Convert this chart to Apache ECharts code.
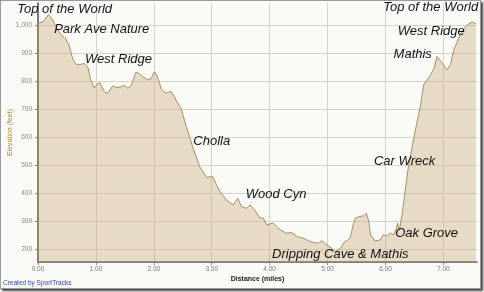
<!DOCTYPE html>
<html>
<head>
<meta charset="utf-8">
<script src="https://cdn.jsdelivr.net/npm/echarts@6/dist/echarts.min.js"></script>
<style>
  html, body { margin: 0; padding: 0; background: #ffffff; }
  #wrap { position: relative; width: 484px; height: 292px; overflow: hidden; }
  #chart { position: absolute; left: 0; top: 0; width: 484px; height: 292px; }
  #frame { position: absolute; left: 0; top: 0; width: 479px; height: 287px;
           border: 1px solid #9a9a9a; box-shadow: 2px 2px 2px rgba(0,0,0,0.75);
           pointer-events: none; }
</style>
</head>
<body>
<div id="wrap">
  <div id="chart"></div>
  <div id="frame"></div>
</div>
<script>
// Distance (miles)
const distance = [
  0.00, 0.08, 0.12, 0.18, 0.22, 0.28, 0.36, 0.42, 0.48, 0.54,
  0.60, 0.65, 0.72, 0.80, 0.86, 0.91, 0.97, 1.03, 1.07, 1.14,
  1.20, 1.29, 1.36, 1.42, 1.49, 1.55, 1.60, 1.69, 1.75, 1.81,
  1.89, 1.95, 2.01, 2.04, 2.08, 2.13, 2.21, 2.30, 2.35, 2.39,
  2.47, 2.56, 2.67, 2.79, 2.91, 2.98, 3.02, 3.08, 3.14, 3.25,
  3.31, 3.37, 3.45, 3.51, 3.60, 3.66, 3.74, 3.83, 3.89, 3.95,
  4.06, 4.12, 4.18, 4.29, 4.38, 4.47, 4.58, 4.64, 4.70, 4.78,
  4.84, 4.90, 4.99, 5.07, 5.13, 5.22, 5.30, 5.35, 5.39, 5.45,
  5.48, 5.56, 5.62, 5.67, 5.71, 5.74, 5.82, 5.91, 5.96, 6.02,
  6.08, 6.14, 6.18, 6.21, 6.24, 6.28, 6.33, 6.39, 6.46, 6.54,
  6.60, 6.66, 6.72, 6.78, 6.84, 6.89, 6.92, 6.98, 7.06, 7.12,
  7.18, 7.24, 7.30, 7.38, 7.46, 7.50, 7.56
];
// Elevation (feet)
const elevation = [
  1006, 1010, 1020, 1036, 1028, 1006, 976, 960, 950, 925,
  878, 860, 858, 862, 850, 804, 774, 790, 794, 762,
  755, 782, 776, 778, 784, 774, 780, 830, 826, 815,
  804, 806, 833, 825, 804, 770, 756, 762, 745, 728,
  702, 637, 565, 494, 455, 458, 457, 430, 405, 375,
  366, 357, 381, 351, 345, 357, 339, 310, 310, 286,
  292, 280, 268, 256, 258, 244, 238, 232, 226, 222,
  220, 229, 214, 202, 190, 202, 226, 232, 240, 292,
  310, 316, 318, 327, 300, 250, 228, 232, 250, 246,
  256, 250, 268, 292, 265, 315, 390, 485, 565, 649,
  708, 786, 804, 822, 845, 887, 893, 863, 839, 857,
  911, 940, 970, 994, 1006, 1010, 1004
];
// Tick values
const xTicks = [0, 1, 2, 3, 4, 5, 6, 7];
const yTicks = [200, 300, 400, 500, 600, 700, 800, 900, 1000];
// Annotations: text, distance, elevation
const noteText = ['Top of the World', 'Park Ave Nature', 'West Ridge', 'Cholla', 'Wood Cyn',
  'Dripping Cave & Mathis', 'Oak Grove', 'Car Wreck', 'Mathis', 'West Ridge', 'Top of the World'];
const noteDist = [0.46, 1.10, 1.39, 3.00, 4.11, 5.22, 6.71, 6.33, 6.47, 6.79, 6.78];
const noteElev = [1054, 982, 875, 582, 393, 179, 254, 514, 896, 975, 1061];

const seriesData = distance.map((d, i) => [d, elevation[i]]);
const notes = noteText.map((t, i) => ({
  name: t, coord: [noteDist[i], noteElev[i]], value: t,
  symbol: 'rect', symbolSize: 1, itemStyle: { color: 'rgba(0,0,0,0)' },
  label: {
    show: true, position: 'inside', formatter: t, color: '#111',
    fontSize: 13, fontStyle: 'italic', fontFamily: 'Liberation Sans, Arial, sans-serif'
  }
}));

const chart = echarts.init(document.getElementById('chart'), null, { renderer: 'canvas' });
chart.setOption({
  backgroundColor: '#fafaf6',
  animation: false,
  grid: { left: 38, right: 7, top: 3, bottom: 30, containLabel: false, outerBoundsMode: 'none' },
  xAxis: {
    type: 'value', min: 0, max: 7.58,
    name: 'Distance (miles)', nameLocation: 'middle', nameGap: 14, nameMoveOverlap: false,
    nameTextStyle: { fontSize: 7, fontWeight: 'bold', color: '#222', fontFamily: 'Liberation Sans, Arial, sans-serif' },
    axisLine: { show: true, lineStyle: { color: '#555', width: 1.5 } },
    axisTick: { show: true, length: 3, customValues: xTicks, lineStyle: { color: '#888' } },
    axisLabel: { customValues: xTicks, formatter: v => v.toFixed(2), fontSize: 6.5, color: '#777', margin: 4,
                 fontFamily: 'Liberation Sans, Arial, sans-serif' },
    splitLine: { show: true, lineStyle: { color: '#d6d3cc', width: 1 } }
  },
  yAxis: {
    type: 'value', min: 153, max: 1078,
    name: 'Elevation (feet)', nameLocation: 'middle', nameGap: 24, nameRotate: 90, nameMoveOverlap: false,
    nameTextStyle: { fontSize: 7, color: '#b08a30', fontFamily: 'Liberation Sans, Arial, sans-serif' },
    axisLine: { show: true, lineStyle: { color: '#555', width: 1.5 } },
    axisTick: { show: true, length: 3, customValues: yTicks, lineStyle: { color: '#888' } },
    axisLabel: { customValues: yTicks, fontSize: 6.5, color: '#8a8a8a', margin: 6,
                 formatter: v => v >= 1000 ? '1,000' : String(v),
                 fontFamily: 'Liberation Sans, Arial, sans-serif' },
    splitLine: { show: true, lineStyle: { color: '#d6d3cc', width: 1 } }
  },
  series: [{
    type: 'line',
    data: seriesData,
    showSymbol: false,
    symbol: 'none',
    smooth: false,
    lineStyle: { color: '#a58e68', width: 1 },
    areaStyle: { color: 'rgba(201,170,125,0.55)', origin: 'start' },
    markPoint: { silent: true, data: notes }
  }],
  graphic: [{
    type: 'text', left: 3, top: 280,
    style: { text: 'Created by SportTracks', fill: '#3343c4', fontSize: 6.5,
             fontFamily: 'Liberation Sans, Arial, sans-serif' }
  }]
});
</script>
</body>
</html>
